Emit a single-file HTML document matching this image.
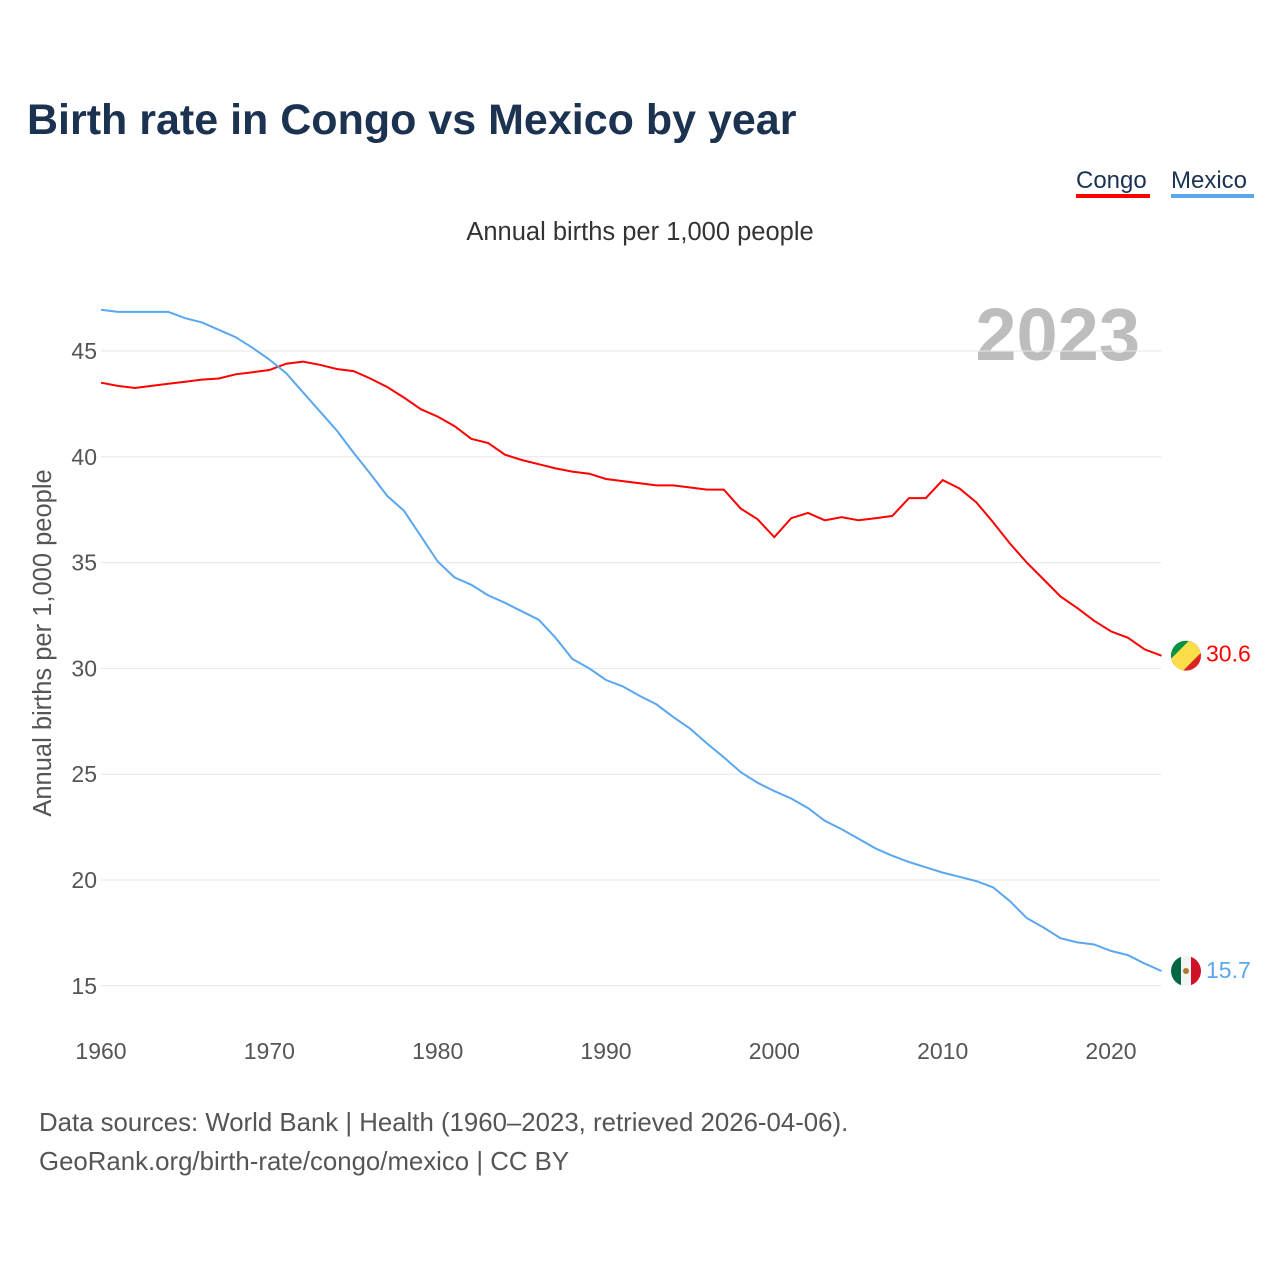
<!DOCTYPE html>
<html><head><meta charset="utf-8"><style>
body{margin:0;background:#fff;font-family:"Liberation Sans",sans-serif;}
svg text{font-family:"Liberation Sans",sans-serif;}
</style></head><body>
<svg width="1280" height="1280">
<text x="27" y="134" font-size="43" font-weight="bold" fill="#1b3251">Birth rate in Congo vs Mexico by year</text>
<g>
<text x="1076" y="188" font-size="24" fill="#1b3251">Congo</text>
<rect x="1076" y="194" width="74" height="4" fill="#ff0000"/>
<text x="1171" y="188" font-size="24" fill="#1b3251">Mexico</text>
<rect x="1171" y="194" width="83" height="4" fill="#5aa7f0"/>
</g>
<text x="640" y="240" font-size="25.5" fill="#333" text-anchor="middle">Annual births per 1,000 people</text>
<text x="1140" y="360" font-size="74" font-weight="bold" fill="#bdbdbd" text-anchor="end">2023</text>
<text transform="translate(51,643) rotate(-90)" font-size="25.5" fill="#555" text-anchor="middle">Annual births per 1,000 people</text>
<g id="grid"></g><g id="series"></g>
<text x="39" y="1131" font-size="25.8" fill="#555">Data sources: World Bank | Health (1960–2023, retrieved 2026-04-06).</text>
<text x="39" y="1170" font-size="25.8" fill="#555">GeoRank.org/birth-rate/congo/mexico | CC BY</text>
</svg>
<script>
const years=[];for(let y=1960;y<=2023;y++)years.push(y);
const congo=[43.5,43.35,43.25,43.35,43.45,43.55,43.65,43.7,43.9,44.0,44.1,44.4,44.5,44.35,44.15,44.05,43.7,43.3,42.8,42.25,41.9,41.45,40.85,40.65,40.1,39.85,39.65,39.45,39.3,39.2,38.95,38.85,38.75,38.65,38.65,38.55,38.45,38.45,37.55,37.05,36.2,37.1,37.35,37.0,37.15,37.0,37.1,37.2,38.05,38.05,38.9,38.5,37.85,36.9,35.9,35.0,34.2,33.4,32.85,32.25,31.75,31.45,30.9,30.6];
const mexico=[46.95,46.85,46.85,46.85,46.85,46.55,46.35,46.0,45.65,45.15,44.6,43.95,43.05,42.15,41.25,40.2,39.2,38.15,37.45,36.25,35.05,34.3,33.95,33.45,33.1,32.7,32.3,31.45,30.45,30.0,29.45,29.15,28.7,28.3,27.7,27.15,26.45,25.8,25.1,24.6,24.2,23.85,23.4,22.8,22.4,21.95,21.5,21.15,20.85,20.6,20.35,20.15,19.95,19.65,19.0,18.2,17.75,17.25,17.05,16.95,16.65,16.45,16.05,15.7];
const yTicks=[15,20,25,30,35,40,45];
const xTicks=[1960,1970,1980,1990,2000,2010,2020];
const NS="http://www.w3.org/2000/svg";
const X=v=>101+(v-1960)*(1010/60);
const Y=v=>351+(45-v)*21.16;
function mk(t,a,p){const e=document.createElementNS(NS,t);for(const k in a)e.setAttribute(k,a[k]);p.appendChild(e);return e;}
const g=document.getElementById('grid');
yTicks.forEach(t=>{
 const l=mk('line',{x1:101,x2:1161,y1:Y(t),y2:Y(t),stroke:'#e6e6e6','stroke-width':1},g);
 
 
 const tx=mk('text',{x:97,y:Y(t)+8,'font-size':23,fill:'#555','text-anchor':'end'},g);tx.textContent=t;
 
 
});
xTicks.forEach(t=>{
 const tx=mk('text',{x:X(t),y:1059,'font-size':23,fill:'#555','text-anchor':'middle'},g);tx.textContent=t;
 
 
});
const s=document.getElementById('series');
function line(vals,color,name){
 const p=mk('path',{d:vals.map((v,i)=>(i?'L':'M')+X(years[i]).toFixed(1)+','+Y(v).toFixed(1)).join(''),fill:'none',stroke:color,'stroke-width':2},s);
 
 
}
line(congo,'#ff0000','congo');line(mexico,'#5aa7f0','mexico');
const defs=mk('defs',{},s);
const cx=1186;
let yc=Y(congo[congo.length-1]);
let cp=mk('clipPath',{id:'cc'},defs);mk('circle',{cx:cx,cy:yc,r:15},cp);
let fg=mk('g',{'clip-path':'url(#cc)'},s);


mk('rect',{x:cx-15,y:yc-15,width:30,height:30,fill:'#dc241f'},fg);
mk('polygon',{points:`${cx-15},${yc-15} ${cx+15},${yc-15} ${cx-15},${yc+15}`,fill:'#009543'},fg);
mk('polygon',{points:`${cx+3},${yc-15} ${cx+15},${yc-15} ${cx+15},${yc-3} ${cx-3},${yc+15} ${cx-15},${yc+15} ${cx-15},${yc+3}`,fill:'#fbde4a'},fg);
let lt=mk('text',{x:1206,y:yc+6,'font-size':23,fill:'#ff0000'},s);lt.textContent=congo[congo.length-1].toFixed(1);


let ym=Y(mexico[mexico.length-1]);
let cm=mk('clipPath',{id:'cm'},defs);mk('circle',{cx:cx,cy:ym,r:15},cm);
let mg=mk('g',{'clip-path':'url(#cm)'},s);


mk('rect',{x:cx-15,y:ym-15,width:10,height:30,fill:'#006847'},mg);
mk('rect',{x:cx-5,y:ym-15,width:10,height:30,fill:'#f4f4f4'},mg);
mk('rect',{x:cx+5,y:ym-15,width:10,height:30,fill:'#ce1126'},mg);
mk('circle',{cx:cx,cy:ym,r:3,fill:'#b07a2a'},mg);
let mt=mk('text',{x:1206,y:ym+7,'font-size':23,fill:'#5aa7f0'},s);mt.textContent=mexico[mexico.length-1].toFixed(1);


</script>
</body></html>
